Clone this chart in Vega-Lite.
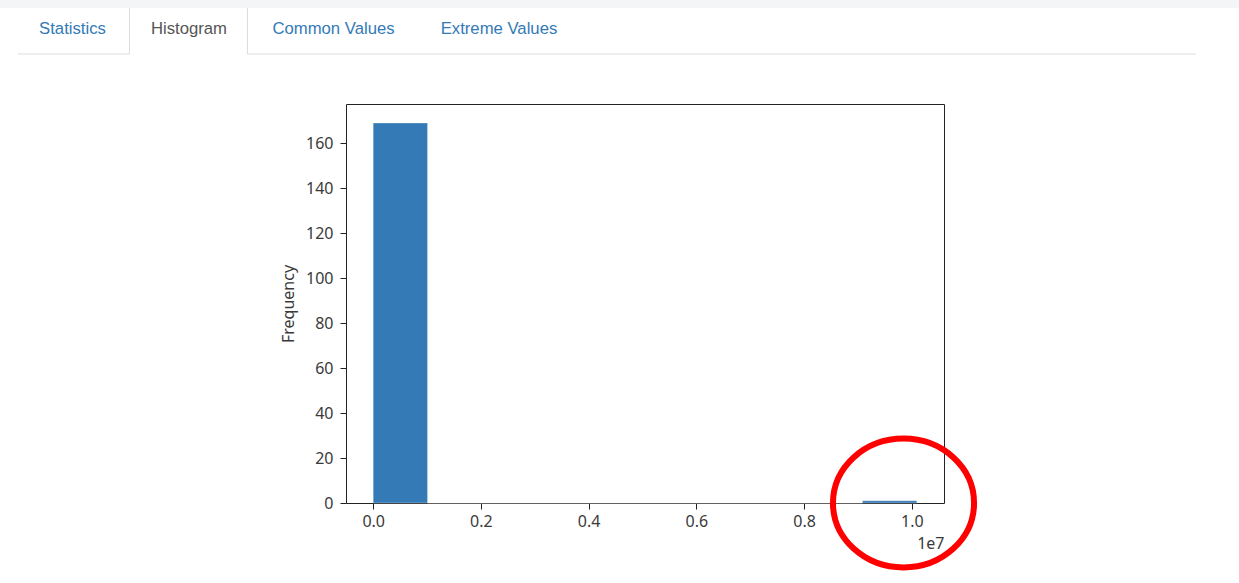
{
  "$schema": "https://vega.github.io/schema/vega-lite/v6.json",
  "width": 598,
  "height": 399,
  "autosize": {"type": "none"},
  "padding": {"left": 346, "top": 104, "right": 295, "bottom": 80},
  "background": "white",
  "config": {
    "view": {"stroke": "#222222", "strokeWidth": 1},
    "axis": {
      "grid": false,
      "domain": false,
      "tickColor": "#222222",
      "tickSize": 6,
      "labelFont": "Noto Sans",
      "labelFontSize": 16,
      "labelColor": "#3a3a3a",
      "titleFont": "Noto Sans",
      "titleFontSize": 16,
      "titleFontWeight": "normal",
      "titleColor": "#3a3a3a"
    }
  },
  "datasets": {
    "hist": [
      {"bin_start": 0, "bin_end": 1009300, "count": 169},
      {"bin_start": 1009300, "bin_end": 2018600, "count": 0},
      {"bin_start": 2018600, "bin_end": 3027900, "count": 0},
      {"bin_start": 3027900, "bin_end": 4037200, "count": 0},
      {"bin_start": 4037200, "bin_end": 5046500, "count": 0},
      {"bin_start": 5046500, "bin_end": 6055800, "count": 0},
      {"bin_start": 6055800, "bin_end": 7065100, "count": 0},
      {"bin_start": 7065100, "bin_end": 8074400, "count": 0},
      {"bin_start": 8074400, "bin_end": 9083700, "count": 0},
      {"bin_start": 9083700, "bin_end": 10093000, "count": 1}
    ],
    "band": [
      {"bin_start": -6928750, "bin_end": 16074440, "count": 223.7, "count2": 220.15}
    ],
    "lines": [
      {"bin_start": -6594640, "bin_end": -4524540, "count": 199.69, "count2": 199.69},
      {"bin_start": -2333750, "bin_end": 15276110, "count": 199.69, "count2": 199.69},
      {"bin_start": -4524540, "bin_end": -4524540, "count": 220.15, "count2": 199.69},
      {"bin_start": -2333750, "bin_end": -2333750, "count": 220.15, "count2": 199.69}
    ],
    "tabs": [
      {"label": "Statistics", "bin_start": -5582800, "count": 208.58, "active": false},
      {"label": "Histogram", "bin_start": -3419860, "count": 208.58, "active": true},
      {"label": "Common Values", "bin_start": -737070, "count": 208.58, "active": false},
      {"label": "Extreme Values", "bin_start": 2335600, "count": 208.58, "active": false}
    ],
    "highlight": [
      {"bin_start": 9846000, "count": 0}
    ]
  },
  "layer": [
    {
      "data": {"name": "hist"},
      "mark": {"type": "bar", "color": "#337ab7", "stroke": "#ffffff", "strokeOpacity": 0.4, "strokeWidth": 0.8},
      "encoding": {
        "x": {
          "field": "bin_start",
          "type": "quantitative",
          "scale": {"domain": [-504650, 10597650], "nice": false, "zero": false},
          "axis": {
            "values": [0, 2000000, 4000000, 6000000, 8000000, 10000000],
            "labelExpr": "format(datum.value / 10000000, '.1f')",
            "labelPadding": 4,
            "title": "1e7",
            "titleAnchor": "end",
            "titleAlign": "right",
            "titlePadding": 6
          }
        },
        "x2": {"field": "bin_end"},
        "y": {
          "field": "count",
          "type": "quantitative",
          "scale": {"domain": [0, 177.45], "nice": false},
          "axis": {
            "values": [0, 20, 40, 60, 80, 100, 120, 140, 160],
            "labelPadding": 7,
            "title": "Frequency",
            "titlePadding": 9
          }
        },
        "y2": {"datum": 0}
      }
    },
    {
      "data": {"name": "band"},
      "mark": {"type": "rect", "color": "#f4f5f7"},
      "encoding": {
        "x": {"field": "bin_start", "type": "quantitative"},
        "x2": {"field": "bin_end"},
        "y": {"field": "count", "type": "quantitative"},
        "y2": {"field": "count2"}
      }
    },
    {
      "data": {"name": "lines"},
      "mark": {"type": "rule", "color": "#dddddd", "strokeWidth": 1},
      "encoding": {
        "x": {"field": "bin_start", "type": "quantitative"},
        "x2": {"field": "bin_end"},
        "y": {"field": "count", "type": "quantitative"},
        "y2": {"field": "count2"}
      }
    },
    {
      "data": {"name": "tabs"},
      "mark": {"type": "text", "font": "Liberation Sans", "fontSize": 16.7, "align": "center", "baseline": "alphabetic"},
      "encoding": {
        "x": {"field": "bin_start", "type": "quantitative"},
        "y": {"field": "count", "type": "quantitative"},
        "text": {"field": "label"},
        "color": {"condition": {"test": "datum.active", "value": "#555555"}, "value": "#337ab7"}
      }
    },
    {
      "data": {"name": "highlight"},
      "mark": {
        "type": "point",
        "shape": "M 1.045 0 C 1.045 0.5274 0.5772 0.955 0 0.955 C -0.5772 0.955 -1.045 0.5274 -1.045 0 C -1.045 -0.5274 -0.5772 -0.955 0 -0.955 C 0.5772 -0.955 1.045 -0.5274 1.045 0 Z",
        "size": 18225,
        "filled": false,
        "stroke": "#ff0000",
        "strokeWidth": 6,
        "opacity": 1
      },
      "encoding": {
        "x": {"field": "bin_start", "type": "quantitative"},
        "y": {"field": "count", "type": "quantitative"}
      }
    }
  ]
}
